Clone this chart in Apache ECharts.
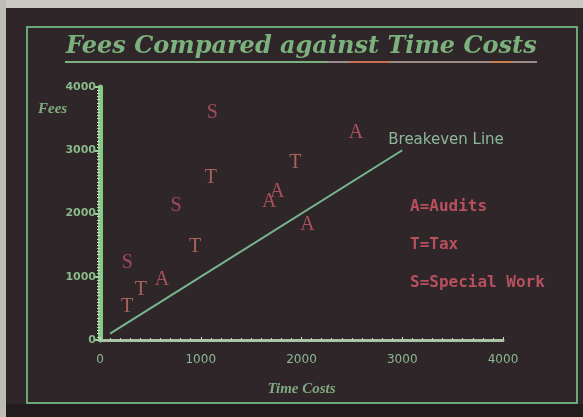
<!DOCTYPE html>
<html>
<head>
<meta charset="utf-8">
<script src="https://cdn.jsdelivr.net/npm/echarts@6/dist/echarts.min.js"></script>
<style>
  html, body { margin: 0; padding: 0; background: #2a2326; }
  #chart { width: 583px; height: 417px; }
</style>
</head>
<body>
<div id="chart"></div>
<script>
// ticks
const xTicks = [0, 1000, 2000, 3000, 4000];
const yTicks = [0, 1000, 2000, 3000, 4000];

// job points [time cost, fee]
const audits = [[615, 950], [1680, 2180], [1760, 2340], [2060, 1820], [2540, 3270]];
const tax = [[270, 520], [405, 790], [945, 1470], [1100, 2570], [1940, 2810]];
const special = [[270, 1215], [755, 2130], [1115, 3585]];

// breakeven line fee = cost
const breakeven = [[100, 100], [3000, 3000]];

const legendLines = ["A=Audits", "T=Tax", "S=Special Work"];

const serif = "'Liberation Serif', 'DejaVu Serif', serif";

let chart = echarts.init(document.getElementById("chart"));

function letterSeries(name, data, letter, color) {
  return {
    name: name,
    type: "scatter",
    data: data,
    symbolSize: 1,
    itemStyle: { color: "rgba(0,0,0,0)" },
    label: {
      show: true,
      position: "inside",
      formatter: letter,
      color: color,
      fontFamily: serif,
      fontSize: 20,
    },
    z: 5,
  };
}

let option = {
  backgroundColor: "#2e2629",
  animation: false,
  grid: { left: 100, right: 80, top: 87, bottom: 77 },
  xAxis: {
    type: "value",
    min: 0,
    max: 4000,
    interval: 1000,
    axisLine: { show: true, lineStyle: { color: "#a9c4a4", width: 3 } },
    axisTick: { show: true, inside: true, length: 3, lineStyle: { color: "#c8d8c0" } },
    minorTick: { show: true, splitNumber: 10, length: 2, lineStyle: { color: "#c8d8c0" } },
    splitLine: { show: false },
    axisLabel: {
      color: "#8cb894",
      fontFamily: "DejaVu Sans",
      fontSize: 12,
      margin: 14,
      formatter: (v) => (xTicks.includes(v) ? String(v) : ""),
    },
    name: "Time Costs",
    nameLocation: "middle",
    nameGap: 42,
    nameTextStyle: {
      color: "#80a880",
      fontFamily: serif,
      fontStyle: "italic",
      fontWeight: "bold",
      fontSize: 15,
    },
  },
  yAxis: {
    type: "value",
    min: 0,
    max: 4000,
    interval: 1000,
    axisLine: { show: true, lineStyle: { color: "#86c886", width: 5 } },
    axisTick: { show: true, length: 5, lineStyle: { color: "#9ad49a", width: 2 } },
    minorTick: { show: true, splitNumber: 20, length: 3, lineStyle: { color: "#c0e0b8" } },
    splitLine: { show: false },
    axisLabel: {
      color: "#8ab88a",
      fontFamily: "DejaVu Sans",
      fontWeight: "bold",
      fontSize: 11,
      margin: 4,
      formatter: (v) => (yTicks.includes(v) ? String(v) : ""),
    },
  },
  series: [
    {
      name: "Breakeven",
      type: "line",
      data: breakeven.map((p, i) =>
        i === breakeven.length - 1
          ? {
              value: p,
              label: {
                show: true,
                formatter: "Breakeven Line",
                position: "top",
                align: "left",
                offset: [-14, 2],
                color: "#8cb898",
                fontFamily: "DejaVu Sans",
                fontSize: 15,
              },
            }
          : p
      ),
      symbol: "circle",
      symbolSize: 0,
      showSymbol: true,
      lineStyle: { color: "#78b890", width: 2 },
      z: 3,
    },
    letterSeries("Audits", audits, "A", "#c85c66"),
    letterSeries("Tax", tax, "T", "#c87264"),
    letterSeries("Special Work", special, "S", "#c0546c"),
  ],
  graphic: [
    // screen bezel
    { type: "rect", shape: { x: 0, y: 0, width: 583, height: 8 }, style: { fill: "#c9c8c2" }, silent: true },
    { type: "rect", shape: { x: 0, y: 0, width: 6, height: 417 }, style: { fill: "#bdbcb6" }, silent: true },
    { type: "rect", shape: { x: 6, y: 404, width: 577, height: 13 }, style: { fill: "#221c1f" }, silent: true },
    // green frame
    {
      type: "rect",
      shape: { x: 27, y: 27, width: 550, height: 376 },
      style: { fill: null, stroke: "#6aa878", lineWidth: 2 },
      silent: true,
    },
    // title and underline
    {
      type: "text",
      left: 66,
      top: 35,
      style: {
        text: "Fees Compared against Time Costs",
        fill: "#7cb07c",
        font: "italic bold 24px 'DejaVu Serif', serif",
      },
    },
    { type: "line", shape: { x1: 65, y1: 62, x2: 327, y2: 62 }, style: { stroke: "#7cb07c", lineWidth: 2 } },
    { type: "line", shape: { x1: 327, y1: 62, x2: 537, y2: 62 }, style: { stroke: "#9a8a88", lineWidth: 2 } },
    { type: "line", shape: { x1: 350, y1: 62, x2: 390, y2: 62 }, style: { stroke: "#c87050", lineWidth: 2 } },
    { type: "line", shape: { x1: 490, y1: 62, x2: 512, y2: 62 }, style: { stroke: "#c88050", lineWidth: 2 } },
    // y axis name
    {
      type: "text",
      left: 38,
      top: 102,
      style: { text: "Fees", fill: "#80b080", font: "italic bold 15px " + serif },
    },
    // key
    ...legendLines.map((t, i) => ({
      type: "text",
      left: 410,
      top: 199 + i * 38,
      style: { text: t, fill: "#b8505e", font: "bold 16px 'DejaVu Sans Mono', monospace" },
    })),
  ],
};

chart.setOption(option);
</script>
</body>
</html>
